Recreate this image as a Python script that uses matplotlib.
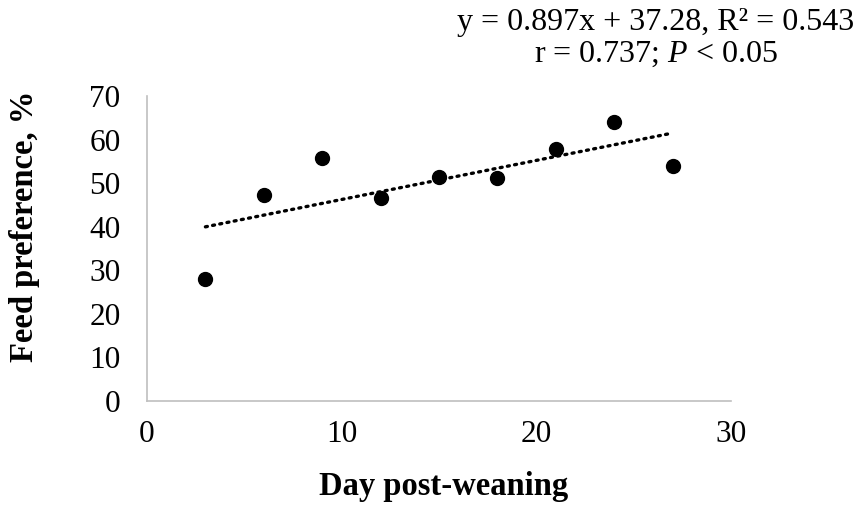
import numpy as np
import matplotlib
matplotlib.use('Agg')
import matplotlib.pyplot as plt

# data
days = [3, 6, 9, 12, 15, 18, 21, 24, 27]
preference = [28.1, 47.3, 55.8, 46.7, 51.5, 51.2, 57.8, 64.0, 54.0]
slope, intercept = 0.897, 37.28
x_ticks = [0, 10, 20, 30]
y_ticks = [0, 10, 20, 30, 40, 50, 60, 70]

plt.rcParams['font.family'] = ['Liberation Serif', 'DejaVu Serif']
plt.rcParams['mathtext.fontset'] = 'custom'
plt.rcParams['mathtext.rm'] = 'Liberation Serif'
plt.rcParams['mathtext.it'] = 'Liberation Serif:italic'

W, H = 859, 508
fig = plt.figure(figsize=(W / 100, H / 100), dpi=100)
ax = fig.add_axes([147 / W, 1 - 401 / H, (731 - 147) / W, (401 - 96) / H])

x_fit = np.array([days[0], days[-1]])
ax.plot(x_fit, slope * x_fit + intercept, color='black', lw=2.4,
        ls=(0, (0.6, 1.6)), dash_capstyle='round', zorder=2)
ax.plot(days, preference, 'o', color='black', ms=10, zorder=3)

ax.set_xlim(0, 30)
ax.set_ylim(0, 70)
ax.set_xticks(x_ticks)
ax.set_yticks(y_ticks)
ax.tick_params(length=0, labelsize=22.5)
ax.tick_params(axis='x', pad=14)
ax.tick_params(axis='y', pad=19)
for s in ('top', 'right'):
    ax.spines[s].set_visible(False)
for s in ('left', 'bottom'):
    ax.spines[s].set_color('#BFBFBF')
    ax.spines[s].set_linewidth(1.2)

ax.set_xlabel('Day post-weaning', fontsize=23.5, fontweight='bold')
ax.xaxis.set_label_coords((444 - 147) / 584, (401 - 495) / 305)
ax.xaxis.label.set_va('baseline')
ax.set_ylabel('Feed preference, %', fontsize=23.5, fontweight='bold')
ax.yaxis.set_label_coords((25 - 147) / 584, (401 - 226) / 305)
ax.yaxis.label.set_va('center')

fig.text(656 / W, 1 - 30 / H, 'y = 0.897x + 37.28, R² = 0.543',
         fontsize=23, ha='center', va='baseline')
fig.text(656 / W, 1 - 62 / H, 'r = 0.737; $P$ < 0.05',
         fontsize=23, ha='center', va='baseline')

fig.savefig('out.png', dpi=100)
